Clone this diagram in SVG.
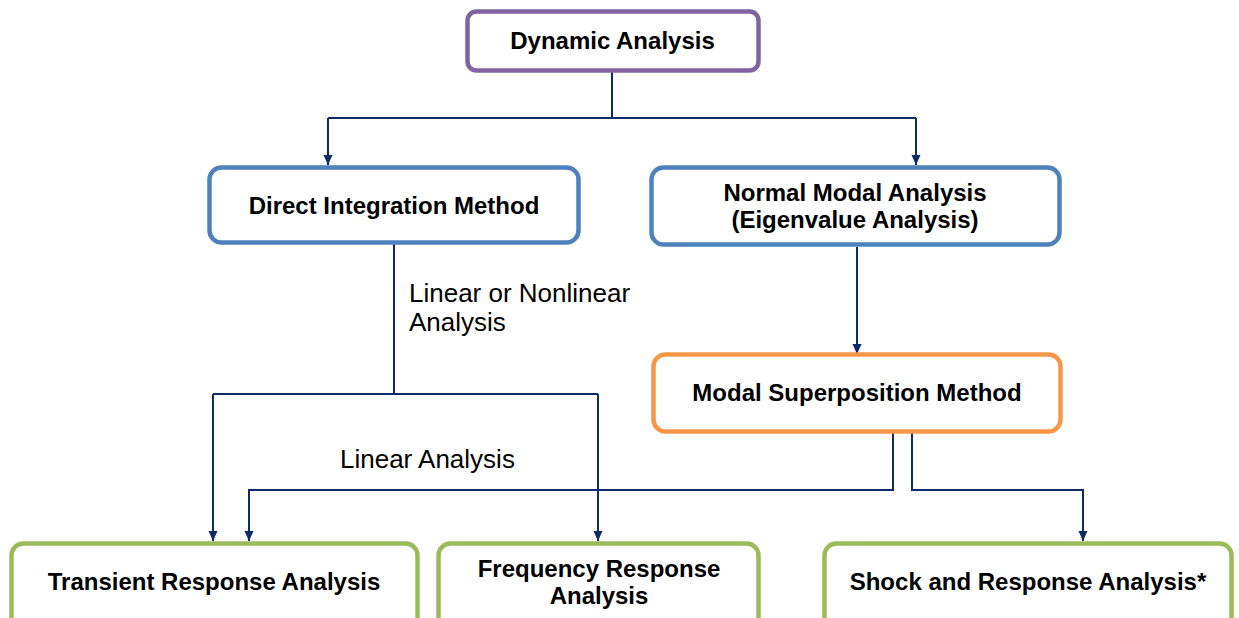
<svg xmlns="http://www.w3.org/2000/svg" width="1239" height="618" viewBox="0 0 1239 618">
<style>
.box{fill:#fff;stroke-width:4.5}
.p{stroke:#8064A2}.b{stroke:#4F81BD}.o{stroke:#F79646}.g{stroke:#9BBB59}
.t{font-family:"Liberation Sans",Arial,sans-serif;font-weight:bold;font-size:24px;fill:#000;text-anchor:middle}
.l{font-family:"Liberation Sans",Arial,sans-serif;font-size:26px;fill:#000}
.c{fill:none;stroke:#0E2A6B;stroke-width:2}
</style>
<defs>
<marker id="arr" markerUnits="userSpaceOnUse" markerWidth="10" markerHeight="10" refX="10" refY="5" orient="auto" viewBox="0 0 10 10">
<path d="M0,0.5 L10,5 L0,9.5 Z" fill="#0E2A6B"/>
</marker>
</defs>
<g id="connectors">
<path class="c" d="M612,72 V118"/>
<path class="c" d="M328,118 H916"/>
<path class="c" d="M328,118 V165" marker-end="url(#arr)"/>
<path class="c" d="M916,118 V165" marker-end="url(#arr)"/>
<path class="c" d="M394,243 V394"/>
<path class="c" d="M213,394 H598"/>
<path class="c" d="M213,394 V541" marker-end="url(#arr)"/>
<path class="c" d="M598,394 V541" marker-end="url(#arr)"/>
<path class="c" d="M857,247 V354" marker-end="url(#arr)"/>
<path class="c" d="M893,433 V490 H249 V541" marker-end="url(#arr)"/>
<path class="c" d="M912,433 V490 H1083 V541" marker-end="url(#arr)"/>
</g>
<g id="dynamic">
<rect class="box p" x="467.5" y="11.5" width="291" height="59" rx="9"/>
<text class="t" x="612.5" y="48.5">Dynamic Analysis</text>
</g>
<g id="direct">
<rect class="box b" x="209.5" y="167.5" width="369" height="75" rx="12"/>
<text class="t" x="394" y="214">Direct Integration Method</text>
</g>
<g id="normal">
<rect class="box b" x="651.5" y="167.5" width="408" height="77" rx="12"/>
<text class="t" x="855" y="201">Normal Modal Analysis</text>
<text class="t" x="855" y="228">(Eigenvalue Analysis)</text>
</g>
<g id="label1">
<text class="l" x="409" y="302">Linear or Nonlinear</text>
<text class="l" x="409" y="331">Analysis</text>
</g>
<g id="modal">
<rect class="box o" x="653.5" y="354.5" width="407" height="77" rx="12"/>
<text class="t" x="857" y="401">Modal Superposition Method</text>
</g>
<g id="label2">
<text class="l" x="340" y="468">Linear Analysis</text>
</g>
<g id="transient">
<rect class="box g" x="11.5" y="543.5" width="406" height="100" rx="12"/>
<text class="t" x="214" y="590">Transient Response Analysis</text>
</g>
<g id="frequency">
<rect class="box g" x="438.5" y="543.5" width="320" height="100" rx="12"/>
<text class="t" x="599" y="577">Frequency Response</text>
<text class="t" x="599" y="604">Analysis</text>
</g>
<g id="shock">
<rect class="box g" x="824.5" y="543.5" width="407" height="100" rx="12"/>
<text class="t" x="1028" y="590">Shock and Response Analysis*</text>
</g>
</svg>
